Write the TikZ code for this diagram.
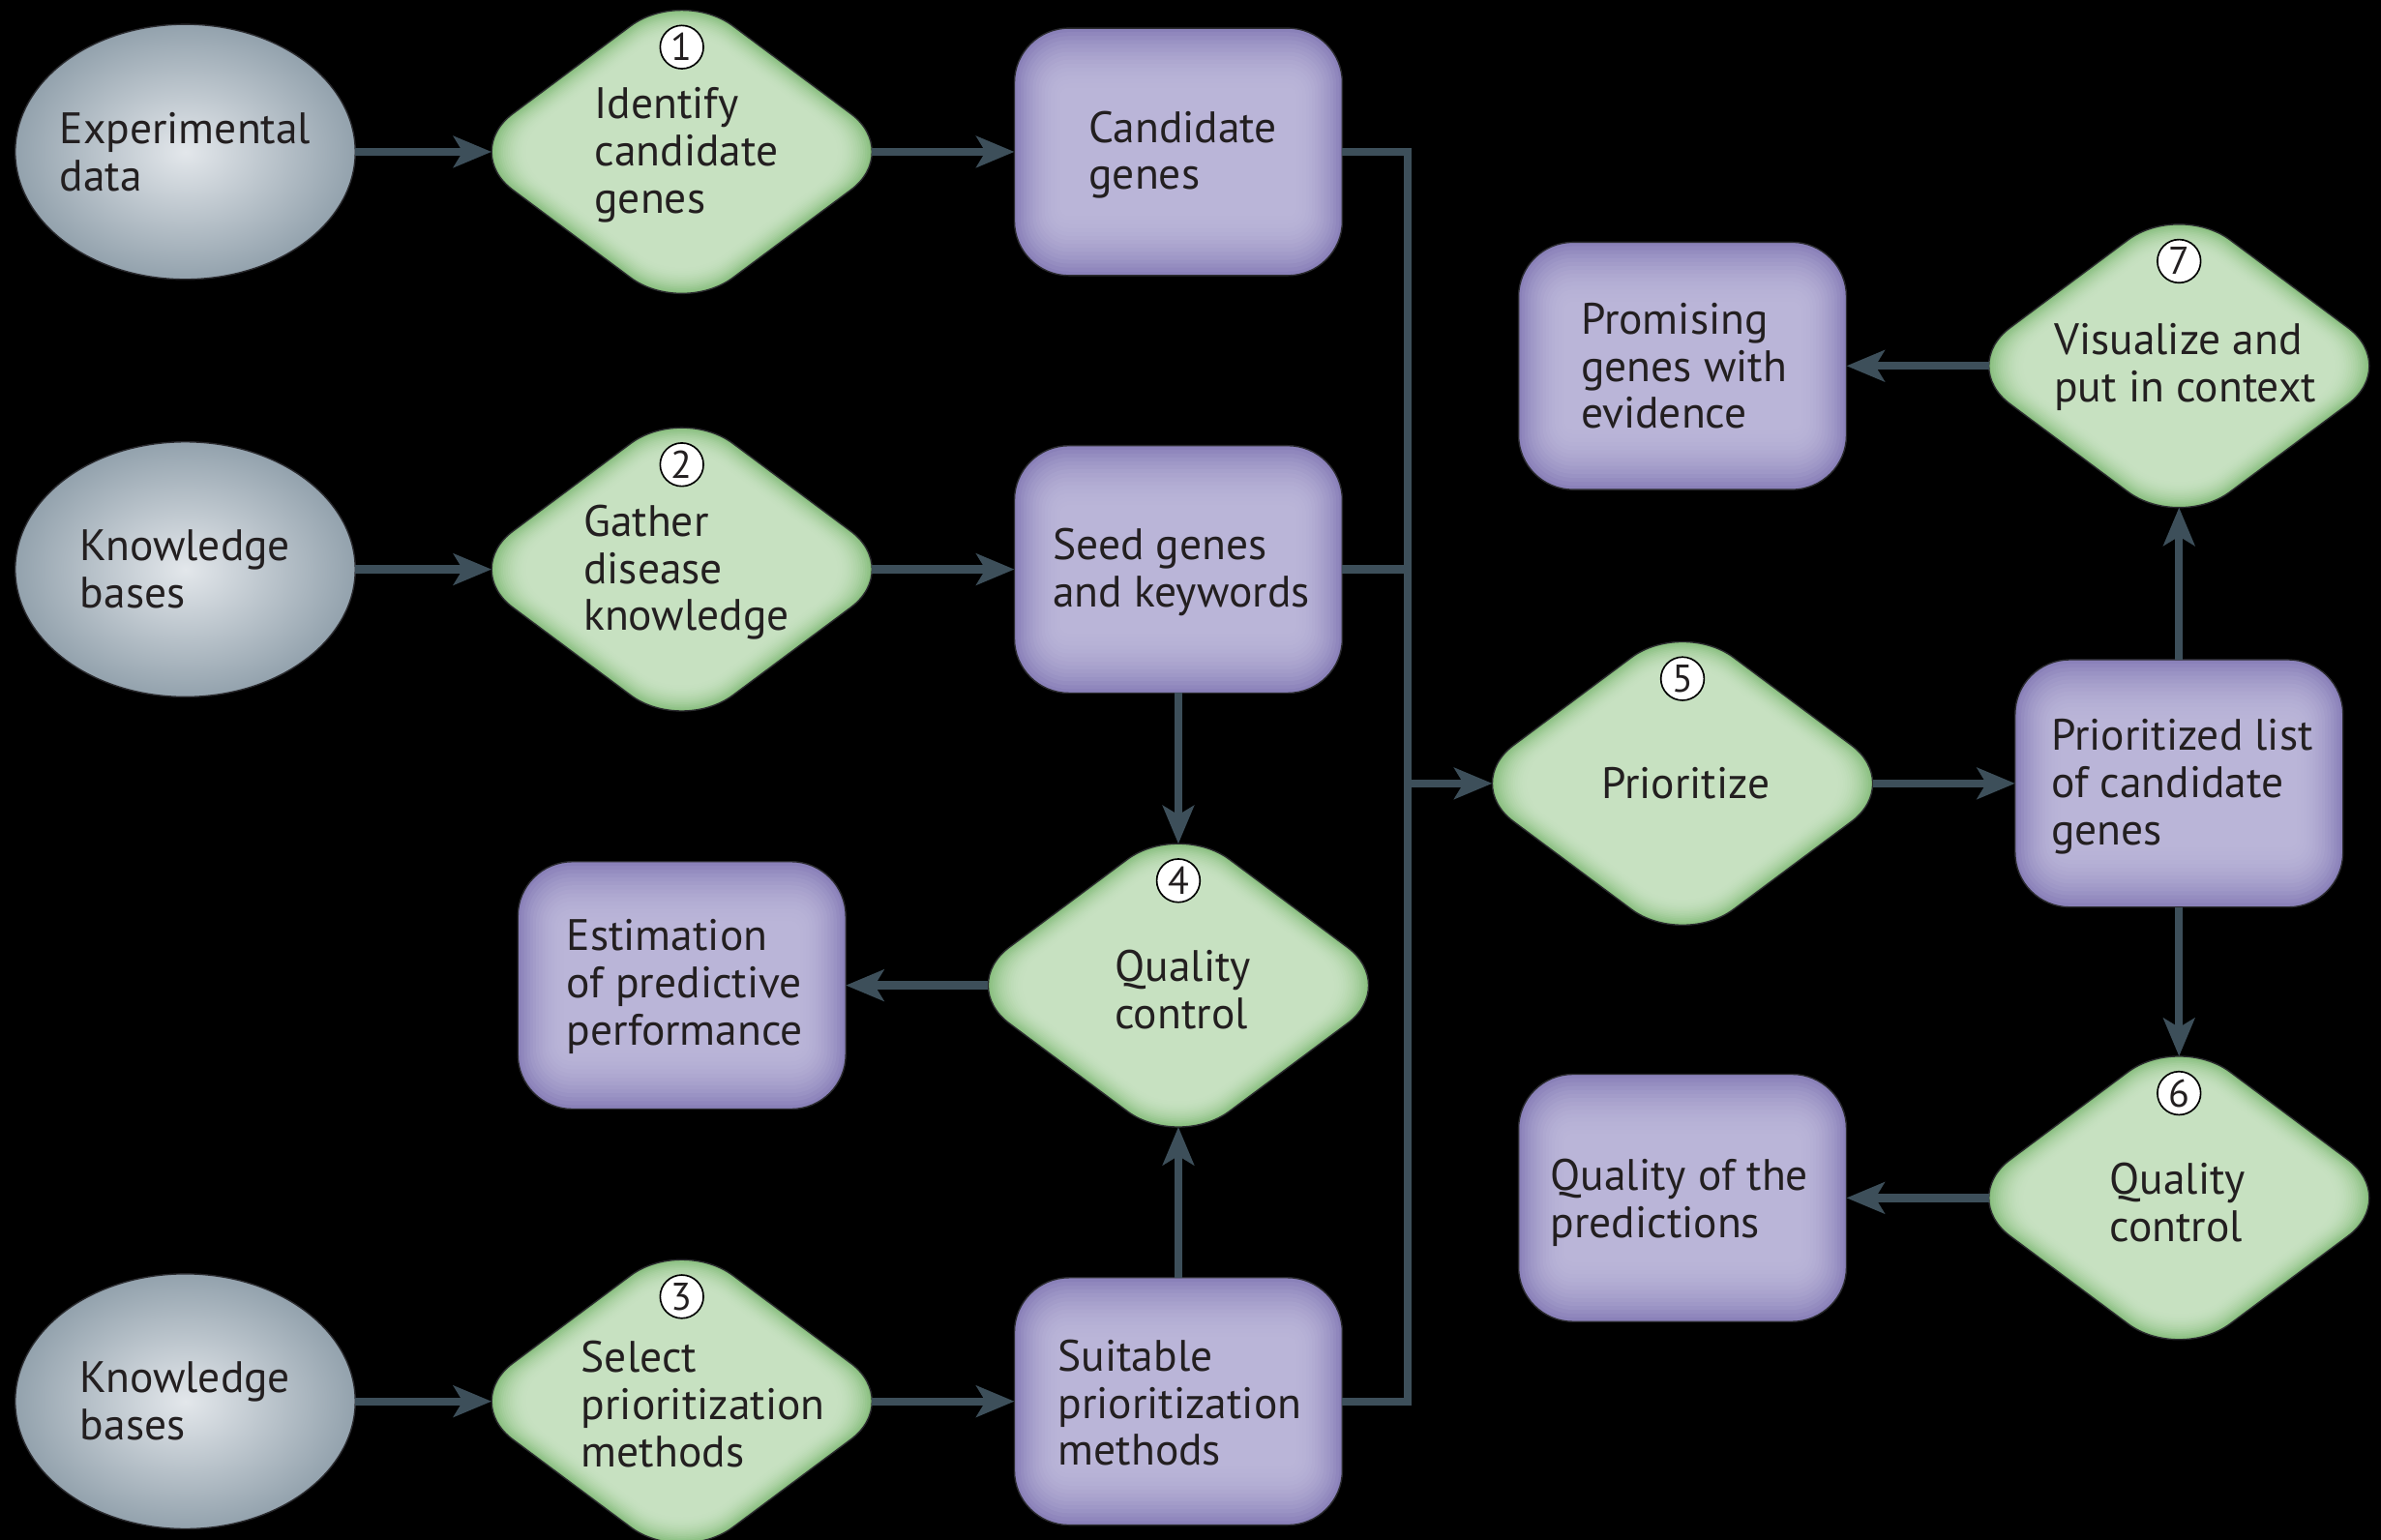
\documentclass[tikz,border=0pt]{standalone}
\usepackage{fontspec}
\setmainfont{PT Sans}
\usetikzlibrary{shapes.geometric,arrows.meta}

\definecolor{ellIn}{HTML}{E3E7EB}
\definecolor{ellOut}{HTML}{93A2AD}
\definecolor{grnIn}{HTML}{C7E1C1}
\definecolor{grnOut}{HTML}{89BF7F}
\definecolor{purIn}{HTML}{BAB5D8}
\definecolor{purOut}{HTML}{8A81B9}
\definecolor{wireCol}{HTML}{3D4F5A}
\definecolor{rim}{HTML}{2A2A2E}
\definecolor{ink}{HTML}{231F20}

\tikzset{
  source/.style={ellipse, draw=rim, line width=0.5pt, inner color=ellIn, outer color=ellOut,
    minimum width=4.48cm, minimum height=3.36cm, inner sep=0pt, outer sep=0pt},
  task/.style={diamond, draw=rim, line width=0.5pt, rounded corners=0.84cm, fill=grnOut,
    minimum width=5.8cm, minimum height=4.32cm, inner sep=0pt, outer sep=0pt,
    path picture={
      \begin{scope}[shift={(path picture bounding box.center)}]
        \foreach \k in {0,...,16}{
          \pgfmathsetmacro{\mixp}{100*(1-(1-\k/16)^2)}
          \pgfmathsetmacro{\sc}{1-0.012*\k}
          \pgfmathsetmacro{\rr}{0.84*\sc}
          \fill[grnIn!\mixp!grnOut, rounded corners=\rr cm]
            (-145*\sc,0) -- (0,108*\sc) -- (145*\sc,0) -- (0,-108*\sc) -- cycle;
        }
      \end{scope}
    }},
  result/.style={rectangle, draw=rim, line width=0.5pt, rounded corners=0.72cm, fill=purOut,
    minimum width=4.32cm, minimum height=3.26cm, inner sep=0pt, outer sep=0pt,
    path picture={
      \foreach \k in {0,...,16}{
        \pgfmathsetmacro{\mixp}{100*(1-(1-\k/16)^2)}
        \pgfmathsetmacro{\rr}{max(0.72-0.04*\k,0.08)}
        \pgfmathsetmacro{\dx}{0.04*\k}
        \pgfmathsetmacro{\dy}{0.052*\k}
        \fill[purIn!\mixp!purOut, rounded corners=\rr cm]
          ([xshift=\dx cm, yshift=-\dy cm]path picture bounding box.north west)
          rectangle ([xshift=-\dx cm, yshift=\dy cm]path picture bounding box.south east);
      }
    }},
  lbl/.style={align=left, text=ink, font=\fontsize{16.5pt}{17.7pt}\selectfont, inner sep=0pt},
  num/.style={circle, draw=black, line width=0.6pt, fill=white, minimum size=0.57cm,
    inner sep=0pt, text=ink, font=\fontsize{14.5pt}{14.5pt}\selectfont},
  wire/.style={draw=wireCol, line width=0.106cm, line join=miter},
  arr/.style={wire, -{Stealth[length=0.5cm,width=0.41cm,inset=0.12cm]}},
  % the diamonds' rounded tips lie inside their sharp corner anchors
  tipLR/.style={shorten >=-0.394cm},
  tipTB/.style={shorten >=-0.294cm},
  startLR/.style={shorten <=-0.394cm},
}

\begin{document}
\begin{tikzpicture}[x=0.02cm, y=-0.02cm]
  % canvas
  \path[use as bounding box, fill=black] (0,0) rectangle (1568,1014);

  % data sources
  \node[source] (e1) at (122,100) {};
  \node[lbl] (e1t) at (122,100) {Experimental\\data};
  \node[source] (e2) at (122,375) {};
  \node[lbl] (e2t) at (122,375) {Knowledge\\bases};
  \node[source] (e3) at (122,923) {};
  \node[lbl] (e3t) at (122,923) {Knowledge\\bases};

  % processing steps
  \node[task] (d1) at (449,100) {};
  \node[lbl] (d1t) at (452,102) {Identify\\candidate\\genes};
  \node[num] (n1) at ([yshift=1.38cm]d1.center) {1};

  \node[task] (d2) at (449,375) {};
  \node[lbl] (d2t) at (452,377) {Gather\\disease\\knowledge};
  \node[num] (n2) at ([yshift=1.38cm]d2.center) {2};

  \node[task] (d3) at (449,923) {};
  \node[lbl] (d3t) at (463,925) {Select\\prioritization\\methods};
  \node[num] (n3) at ([yshift=1.38cm]d3.center) {3};

  \node[task] (d4) at (776,649) {};
  \node[lbl] (d4t) at (779,652) {Quality\\control};
  \node[num] (n4) at ([yshift=1.38cm]d4.center) {4};

  \node[task] (d5) at (1108,516) {};
  \node[lbl] (d5t) at (1110,516) {Prioritize};
  \node[num] (n5) at ([yshift=1.38cm]d5.center) {5};

  \node[task] (d6) at (1435,789) {};
  \node[lbl] (d6t) at (1434,792) {Quality\\control};
  \node[num] (n6) at ([yshift=1.38cm]d6.center) {6};

  \node[task] (d7) at (1435,241) {};
  \node[lbl] (d7t) at (1439,242) {Visualize and\\put in context};
  \node[num] (n7) at ([yshift=1.38cm]d7.center) {7};

  % intermediate results
  \node[result] (r1) at (776,100) {};
  \node[lbl] (r1t) at (779,102) {Candidate\\genes};
  \node[result] (r2) at (776,375) {};
  \node[lbl] (r2t) at (778,377) {Seed genes\\and keywords};
  \node[result] (r3) at (776,923) {};
  \node[lbl] (r3t) at (777,924) {Suitable\\prioritization\\methods};
  \node[result] (r4) at (449,649) {};
  \node[lbl] (r4t) at (451,650) {Estimation\\of predictive\\performance};
  \node[result] (r5) at (1435,516) {};
  \node[lbl] (r5t) at (1437,518) {Prioritized list\\of candidate\\genes};
  \node[result] (r6) at (1108,789) {};
  \node[lbl] (r6t) at (1106,792) {Quality of the\\predictions};
  \node[result] (r7) at (1108,241) {};
  \node[lbl] (r7t) at (1109,241) {Promising\\genes with\\evidence};

  % collecting bus
  \coordinate (busTop) at (927,100);
  \coordinate (busBot) at (927,923);
  \coordinate (busMid) at (927,516);
  \draw[wire] (r1.east) -- (busTop) -- (busBot) -- (r3.east);
  \draw[wire] (r2.east) -- (r2.east -| busTop);
  \draw[arr, tipLR] (busMid) -- (d5);

  % flow arrows
  \draw[arr, tipLR] (e1) -- (d1);
  \draw[arr, tipLR] (e2) -- (d2);
  \draw[arr, tipLR] (e3) -- (d3);
  \draw[arr, startLR] (d1) -- (r1);
  \draw[arr, startLR] (d2) -- (r2);
  \draw[arr, startLR] (d3) -- (r3);
  \draw[arr, tipTB] (r2) -- (d4);
  \draw[arr, tipTB] (r3) -- (d4);
  \draw[arr, startLR] (d4) -- (r4);
  \draw[arr, startLR] (d5) -- (r5);
  \draw[arr, tipTB] (r5) -- (d7);
  \draw[arr, startLR] (d7) -- (r7);
  \draw[arr, tipTB] (r5) -- (d6);
  \draw[arr, startLR] (d6) -- (r6);
\end{tikzpicture}
\end{document}
